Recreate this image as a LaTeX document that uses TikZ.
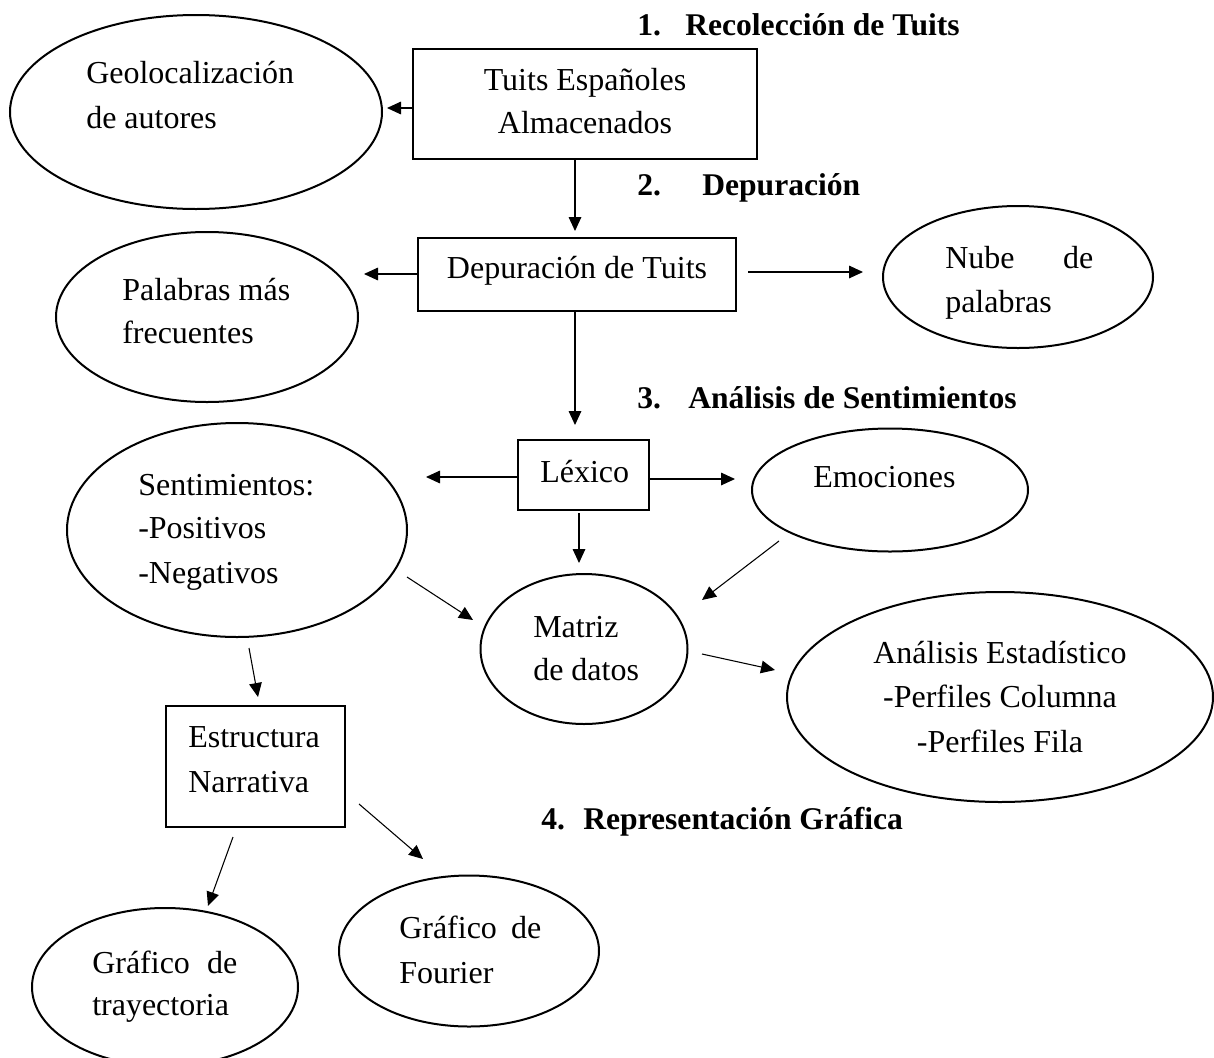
\documentclass[tikz,border=0pt]{standalone}
\usepackage{fontspec}
\setmainfont{Liberation Serif}
\usetikzlibrary{shapes.geometric,arrows.meta}
\tikzset{
 ell/.style 2 args={ellipse,draw,line width=1.5pt,minimum width=#1*0.75pt,minimum height=#2*0.75pt,inner sep=0pt,outer sep=0pt},
 boxn/.style 2 args={rectangle,draw,line width=1.5pt,minimum width=#1*0.75pt,minimum height=#2*0.75pt,inner sep=0pt,outer sep=0pt},
 txt/.style={anchor=base west,inner sep=0pt,font=\fontsize{24pt}{29pt}\selectfont},
 ctxt/.style={txt,anchor=base},
 head/.style={anchor=base west,inner sep=0pt,font=\bfseries\fontsize{23.7pt}{28pt}\selectfont},
 arr/.style={-{Triangle[length=10.5pt,width=9.5pt]},line width=0.8pt},
}
\newcommand{\jl}[3]{\hbox to \dimexpr #1pt*3/4\relax{#2\hfill #3}}
\begin{document}
\begin{tikzpicture}[x=0.75pt,y=-0.75pt]
\path[use as bounding box] (0,0) rectangle (1214,1057);
\clip (0,0) rectangle (1214,1057);

% headings
\node[head] (h1a) at (637,35) {1.};
\node[head] (h1b) at (685,35) {Recolección de Tuits};
\node[head] (h2a) at (637,195) {2.};
\node[head] (h2b) at (702,195) {Depuración};
\node[head] (h3a) at (637,408) {3.};
\node[head] (h3b) at (688,408) {Análisis de Sentimientos};
\node[head] (h4a) at (541,829) {4.};
\node[head] (h4b) at (583,829) {Representación Gráfica};

% shapes
\node[ell={372}{194}] (geo) at (196,112) {};
\node[boxn={344}{110}] (tuits) at (585,104) {};
\node[boxn={318}{73}] (dep) at (577,274.5) {};
\node[ell={302}{170}] (pal) at (207,317) {};
\node[ell={270}{142}] (nube) at (1018,277) {};
\node[boxn={131}{70}] (lex) at (583.5,475) {};
\node[ell={276}{123}] (emo) at (890,490) {};
\node[ell={340}{214}] (sent) at (237,530) {};
\node[ell={207}{150}] (mat) at (584,649) {};
\node[ell={426}{210}] (ana) at (1000,697) {};
\node[boxn={179}{121}] (est) at (255.5,766.5) {};
\node[ell={260}{151}] (four) at (469,951) {};
\node[ell={266}{158}] (tray) at (165,987) {};

% texts
\node[txt] (tgeo1) at (86,83) {Geolocalización};
\node[txt] (tgeo2) at (86,128) {de autores};
\node[ctxt] (ttu1) at (585,90) {Tuits Españoles};
\node[ctxt] (ttu2) at (585,133) {Almacenados};
\node[ctxt] (tdep) at (577,278) {Depuración de Tuits};
\node[txt] (tpal1) at (122,300) {\jl{168}{Palabras}{más}};
\node[txt] (tpal2) at (122,343) {frecuentes};
\node[txt] (tnub1) at (945,268) {\jl{148}{Nube}{de}};
\node[txt] (tnub2) at (945,312) {palabras};
\node[txt] (tlex) at (540,482) {Léxico};
\node[txt] (temo) at (813,487) {Emociones};
\node[txt] (tsen1) at (138,495) {Sentimientos:};
\node[txt] (tsen2) at (138,538) {-Positivos};
\node[txt] (tsen3) at (138,583) {-Negativos};
\node[txt] (tmat1) at (533,637) {Matriz};
\node[txt] (tmat2) at (533,680) {de datos};
\node[ctxt] (tana1) at (1000,663) {Análisis Estadístico};
\node[ctxt] (tana2) at (1000,707) {-Perfiles Columna};
\node[ctxt] (tana3) at (1000,752) {-Perfiles Fila};
\node[txt] (test1) at (188,747) {Estructura};
\node[txt] (test2) at (188,792) {Narrativa};
\node[txt] (tfou1) at (399,938) {\jl{142}{Gráfico}{de}};
\node[txt] (tfou2) at (399,983) {Fourier};
\node[txt] (ttra1) at (92,973) {\jl{145}{Gráfico}{de}};
\node[txt] (ttra2) at (92,1015) {trayectoria};

% connector end points
\coordinate (e1) at (387,108);
\coordinate (e2) at (575,231);
\coordinate (e3) at (364,274);
\coordinate (s4) at (748,272);
\coordinate (e4) at (863,272);
\coordinate (e5) at (575,425);
\coordinate (e6) at (426,477);
\coordinate (e7) at (735,479);
\coordinate (s8) at (579,513);
\coordinate (e8) at (579,563);
\coordinate (s9) at (779,541);
\coordinate (e9) at (702,600);
\coordinate (s10) at (407,577);
\coordinate (e10) at (473,620);
\coordinate (s11) at (702,654);
\coordinate (e11) at (775,670);
\coordinate (s12) at (249,648);
\coordinate (e12) at (258,697);
\coordinate (s13) at (359,804);
\coordinate (e13) at (423,859);
\coordinate (s14) at (233,837);
\coordinate (e14) at (208,906);

% connectors
\draw[arr] (tuits.west |- e1) -- (e1);
\draw[arr] (tuits.south -| e2) -- (e2);
\draw[arr] (dep.west |- e3) -- (e3);
\draw[arr] (s4) -- (e4);
\draw[arr] (dep.south -| e5) -- (e5);
\draw[arr] (lex.west |- e6) -- (e6);
\draw[arr] (lex.east |- e7) -- (e7);
\draw[arr] (s8) -- (e8);
\draw[arr] (s9) -- (e9);
\draw[arr] (s10) -- (e10);
\draw[arr] (s11) -- (e11);
\draw[arr] (s12) -- (e12);
\draw[arr] (s13) -- (e13);
\draw[arr] (s14) -- (e14);
\end{tikzpicture}
\end{document}
